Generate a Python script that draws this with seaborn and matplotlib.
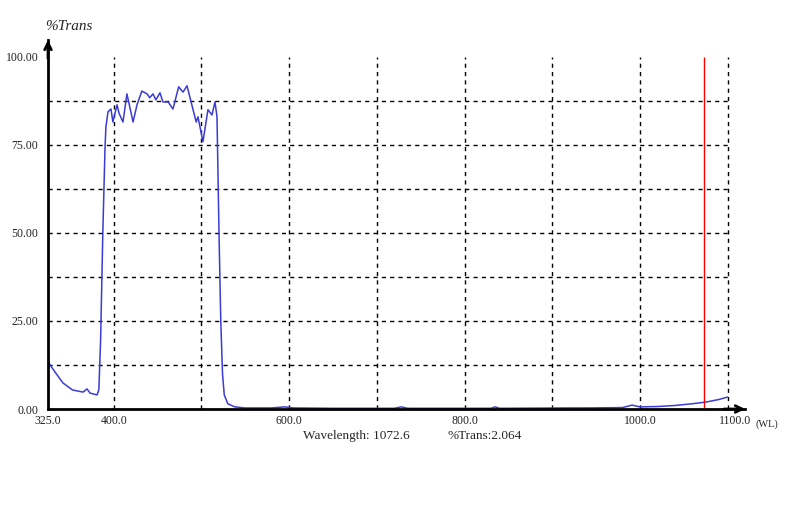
import numpy as np
import pandas as pd
import matplotlib
matplotlib.use("Agg")
import matplotlib.pyplot as plt
import matplotlib.transforms as mtransforms
import seaborn as sns

# spectrum
wavelength = [325, 333, 342, 353, 365, 369.5, 373, 381, 383, 385, 387.5, 390, 391,
              393.4, 396.8, 399, 403.7, 406, 410.5, 415, 422, 426.5, 432, 438, 441,
              444.7, 448, 452.7, 456, 462, 467.5, 474, 479, 483.5, 489, 494, 496,
              501.7, 507.4, 512, 515.4, 517.7, 520, 522, 524, 526, 530, 538, 550,
              580, 595, 605, 650, 720, 728, 735, 800, 830, 835, 840, 920, 940, 980,
              991, 1000, 1020, 1040, 1060, 1076, 1090, 1100]
trans = [13.4, 10.5, 7.4, 5.4, 4.8, 5.7, 4.5, 4.0, 5.5, 19.6, 50, 74, 80,
         84.4, 85.2, 81.5, 86.4, 84, 81.5, 89.5, 81.5, 86.4, 90.3, 89.5, 88.4,
         89.5, 87.8, 89.8, 87.2, 87.2, 85.2, 91.5, 90, 91.8, 86.4, 81.5, 83,
         75.9, 85, 83.5, 87.2, 83, 50, 25, 10, 4, 1.5, 0.6, 0.3,
         0.3, 0.6, 0.3, 0.2, 0.2, 0.6, 0.2, 0.2, 0.2, 0.6, 0.2, 0.3, 0.3, 0.4,
         1.1, 0.6, 0.7, 1.0, 1.5, 2.0, 2.7, 3.4]

x_ticks = [325, 400, 600, 800, 1000, 1100]
x_labels = ["325.0", "400.0", "600.0", "800.0", "1000.0", "1100.0"]
y_ticks = [0, 25, 50, 75, 100]
y_labels = ["0.00", "25.00", "50.00", "75.00", "100.00"]
v_grid = [400, 500, 600, 700, 800, 900, 1000, 1100]
h_grid = [12.5, 25, 37.5, 50, 62.5, 75, 87.5]
cursor_wl = 1072.6
cursor_tr = 2.064

sns.set_style("white")
plt.rcParams["font.family"] = ["Liberation Serif", "DejaVu Serif"]

df = pd.DataFrame({"wl": wavelength, "tr": trans})

fig = plt.figure(figsize=(8, 5.22), dpi=100)
ax = fig.add_axes([48 / 800, 113 / 522, (745 - 48) / 800, (409 - 40) / 522])

dash = (0, (3, 3))
ax.vlines(v_grid, 0, 100, colors="black", linestyles=dash, lw=1)
ax.hlines(h_grid, 325, 1100, colors="black", linestyles=dash, lw=1)

sns.lineplot(data=df, x="wl", y="tr", ax=ax, color="#3b3bd6", lw=1.1)
ax.vlines([cursor_wl], 0, 100, colors="red", lw=1)

ax.set_xlim(325, 1119.8)
ax.set_ylim(0, 104.8)
ax.set_xticks(x_ticks)
ax.set_xticklabels(x_labels)
ax.set_yticks(y_ticks)
ax.set_yticklabels(y_labels)
ax.tick_params(length=0, labelsize=8.5, colors="#222222")
ax.tick_params(axis="y", pad=7)
ax.tick_params(axis="x", pad=4)
ax.set_xlabel("")
ax.set_ylabel("")

# the end label sits a bit right of its grid line, as in the instrument screen
last = ax.get_xticklabels()[-1]
last.set_transform(last.get_transform() + mtransforms.ScaledTranslation(7 / 100, 0, fig.dpi_scale_trans))

for s in ["top", "right"]:
    ax.spines[s].set_visible(False)
for s in ["left", "bottom"]:
    ax.spines[s].set_linewidth(2)
    ax.spines[s].set_color("black")

# axis arrows
ax.annotate("", xy=(1.0, 0), xytext=(0.97, 0), xycoords="axes fraction",
            arrowprops=dict(arrowstyle="->", lw=2, color="black", shrinkA=0, shrinkB=0,
                            mutation_scale=12), annotation_clip=False)
ax.annotate("", xy=(0, 1.0), xytext=(0, 0.95), xycoords="axes fraction",
            arrowprops=dict(arrowstyle="->", lw=2, color="black", shrinkA=0, shrinkB=0,
                            mutation_scale=12), annotation_clip=False)

fig.text(45 / 800, 1 - 27 / 522, "%Trans", fontsize=11, style="italic", va="center")
fig.text(755 / 800, 1 - 424 / 522, "(WL)", fontsize=7.5, va="center")
fig.text(303 / 800, 1 - 436 / 522, "Wavelength: %.1f" % cursor_wl, fontsize=9.5, va="center")
fig.text(447 / 800, 1 - 436 / 522, "%%Trans:%.3f" % cursor_tr, fontsize=9.5, va="center")

fig.savefig("out.png", dpi=100)
